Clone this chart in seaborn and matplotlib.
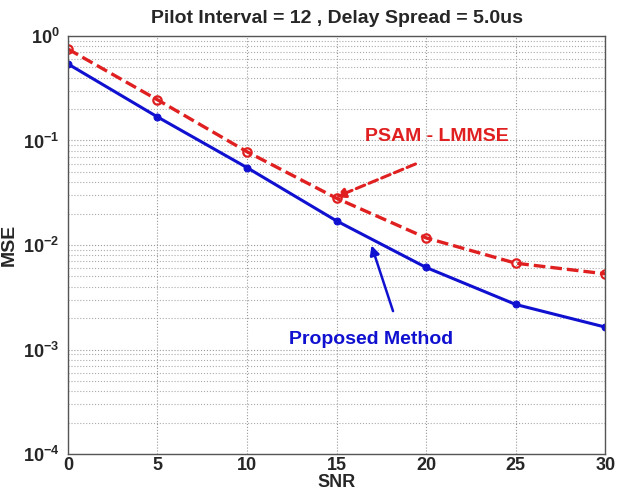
import numpy as np
import pandas as pd
import matplotlib
matplotlib.use("Agg")
import matplotlib.pyplot as plt
import seaborn as sns
from matplotlib.ticker import FixedLocator, FuncFormatter, LogLocator

# values
snr = [0, 5, 10, 15, 20, 25, 30]
mse_psam = [0.75, 0.245, 0.078, 0.028, 0.0117, 0.0067, 0.0053]
mse_proposed = [0.54, 0.168, 0.055, 0.017, 0.0061, 0.0027, 0.00164]
x_ticks = [0, 5, 10, 15, 20, 25, 30]
y_decades = [-4, -3, -2, -1, 0]

df = pd.DataFrame({
    "SNR": snr * 2,
    "MSE": mse_psam + mse_proposed,
    "Method": ["PSAM - LMMSE"] * len(snr) + ["Proposed Method"] * len(snr),
})

sns.set_style("white")
plt.rcParams["font.family"] = ["Liberation Sans", "DejaVu Sans"]
plt.rcParams["font.weight"] = "bold"
plt.rcParams["mathtext.fontset"] = "custom"
plt.rcParams["mathtext.rm"] = "Liberation Sans:bold"
plt.rcParams["mathtext.bf"] = "Liberation Sans:bold"

fig = plt.figure(figsize=(6.17, 4.92), dpi=100)
ax = fig.add_axes([0.110, 0.077, 0.871, 0.850])

sns.lineplot(data=df[df.Method == "Proposed Method"], x="SNR", y="MSE", ax=ax,
             color="#1010d0", lw=2.2, marker="o", markersize=5,
             markeredgecolor="#1010d0", legend=False)
sns.lineplot(data=df[df.Method == "PSAM - LMMSE"], x="SNR", y="MSE", ax=ax,
             color="#e02020", lw=2.4, linestyle=(0, (3.5, 1.5)), marker="o",
             markersize=6, markerfacecolor="none", markeredgecolor="#e02020",
             markeredgewidth=1.6, legend=False)

ax.set_yscale("log")
ax.set_xlim(0, 30)
ax.set_ylim(1e-4, 1)
ax.xaxis.set_major_locator(FixedLocator(x_ticks))
ax.yaxis.set_major_locator(FixedLocator([10.0 ** d for d in y_decades]))
ax.yaxis.set_minor_locator(LogLocator(base=10, subs=np.arange(2, 10)))
ax.yaxis.set_major_formatter(FuncFormatter(lambda v, p: r"$\mathbf{10^{%d}}$" % round(np.log10(v))))
ax.yaxis.set_minor_formatter(FuncFormatter(lambda v, p: ""))

ax.grid(True, which="major", axis="both", color="#999999", linestyle=":", lw=0.8)
ax.grid(True, which="minor", axis="y", color="#aaaaaa", linestyle=":", lw=0.8)

ax.tick_params(axis="x", which="major", labelsize=13, direction="in", length=4,
               color="#444444", pad=2)
ax.tick_params(axis="y", which="major", labelsize=13, direction="in", length=4,
               color="#444444", pad=6)
ax.tick_params(axis="y", which="minor", direction="in", length=2, color="#444444")
for lab in ax.get_xticklabels() + ax.get_yticklabels():
    lab.set_fontweight("bold")
for s in ax.spines.values():
    s.set_color("#555555")
    s.set_linewidth(1.0)

ax.set_title("Pilot Interval = 12 , Delay Spread = 5.0us", fontsize=14, fontweight="bold", pad=9)
ax.set_xlabel("SNR", fontsize=13, fontweight="bold", labelpad=0)
ax.set_ylabel("MSE", fontsize=14, fontweight="bold", labelpad=4)

ax.annotate("", xy=(14.8, 0.028), xytext=(19.55, 0.061),
            arrowprops=dict(arrowstyle="-|>", color="#e02020", lw=2.2,
                            linestyle=(0, (3, 1.5)), mutation_scale=14))
ax.text(20.6, 0.11, "PSAM - LMMSE", color="#e02020", fontsize=14,
        fontweight="bold", ha="center", va="center")

ax.annotate("", xy=(16.9, 0.0105), xytext=(18.2, 0.0022),
            arrowprops=dict(arrowstyle="-|>", color="#1010d0", lw=1.8, mutation_scale=14))
ax.text(16.9, 0.00125, "Proposed Method", color="#1010d0", fontsize=14,
        fontweight="bold", ha="center", va="center")

fig.savefig("out.png", dpi=100)
